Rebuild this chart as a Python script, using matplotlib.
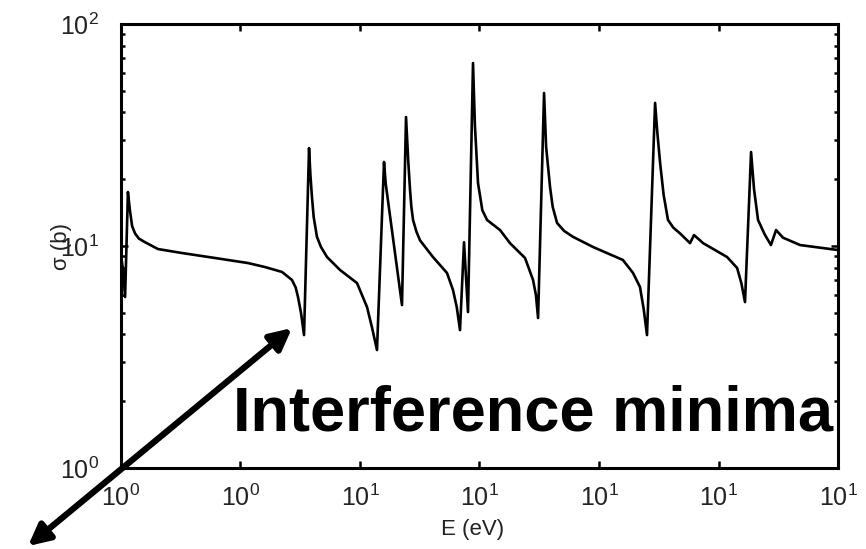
import matplotlib
matplotlib.use("Agg")
import matplotlib.pyplot as plt
from matplotlib.ticker import FixedLocator, NullLocator, FixedFormatter, LogLocator

plt.rcParams['font.family'] = ['Liberation Sans', 'DejaVu Sans']
plt.rcParams['mathtext.fontset'] = 'custom'
plt.rcParams['mathtext.rm'] = 'Liberation Sans'
plt.rcParams['mathtext.it'] = 'Liberation Sans:italic'
plt.rcParams['mathtext.bf'] = 'Liberation Sans:bold'

# Energy (eV) and cross section (b)
energy = [1.000, 1.010, 1.020, 1.034, 1.044, 1.055, 1.070, 1.090, 1.123, 1.195,
          1.341, 1.573, 1.844, 2.001, 2.172, 2.279, 2.320, 2.346, 2.380, 2.415,
          2.474, 2.490, 2.509, 2.530, 2.570, 2.620, 2.698, 2.872, 3.117, 3.271,
          3.350, 3.432, 3.550, 3.580, 3.871, 3.947, 3.990, 4.024, 4.050, 4.083,
          4.150, 4.223, 4.494, 4.808, 4.949, 5.040, 5.119, 5.219, 5.320, 5.450,
          5.500, 5.583, 5.700, 5.831, 6.208, 6.513, 7.002, 7.278, 7.380, 7.456,
          7.674, 7.750, 7.899, 8.000, 8.170, 8.450, 8.821, 9.714, 11.22, 11.78,
          12.18, 12.40, 12.60, 13.10, 13.25, 13.42, 13.65, 13.94, 14.30, 14.77,
          15.50, 15.80, 16.27, 16.51, 18.53, 19.45, 19.85, 20.20, 20.80, 21.10,
          21.51, 22.20, 22.89, 23.46, 24.26, 26.34, 31.62]
sigma = [9.11, 7.80, 5.89, 17.5, 14.5, 12.3, 11.4, 10.8, 10.4, 9.69,
         9.30, 8.83, 8.38, 8.04, 7.64, 7.03, 6.50, 5.89, 5.00, 3.97,
         27.6, 21.0, 16.6, 13.5, 11.0, 9.90, 8.92, 7.80, 6.81, 5.31,
         4.30, 3.40, 23.9, 19.0, 5.42, 38.1, 24.0, 17.9, 15.0, 13.1,
         11.6, 10.6, 8.92, 7.56, 6.34, 5.30, 4.18, 10.4, 5.04, 66.7,
         35.0, 19.2, 14.5, 13.1, 11.8, 10.3, 8.83, 7.03, 6.00, 4.74,
         48.9, 28.0, 18.4, 15.0, 12.7, 11.7, 11.0, 9.90, 8.65, 7.56,
         6.54, 5.20, 3.97, 44.1, 32.0, 23.7, 17.0, 13.1, 12.1, 11.4,
         10.3, 11.2, 10.6, 10.3, 8.92, 7.96, 6.80, 5.59, 26.5, 18.0,
         13.1, 11.3, 10.1, 11.8, 10.9, 10.1, 9.59]

xtick_values = [1.0, 1.778, 3.162, 5.623, 10.0, 17.78, 31.62]
xtick_labels = [r'$10^{0}$', r'$10^{0}$', r'$10^{1}$', r'$10^{1}$',
                r'$10^{1}$', r'$10^{1}$', r'$10^{1}$']
ytick_values = [1, 10, 100]
ytick_labels = [r'$10^{0}$', r'$10^{1}$', r'$10^{2}$']

annotation_text = 'Interference minima'
arrow_tip = (2.279, 4.27)
arrow_tail = (0.639, 0.445)
text_pos = (1.715, 1.483)

fig = plt.figure(figsize=(8.66, 5.49), dpi=100)
ax = fig.add_axes([0.1397, 0.1475, 0.828, 0.8088])

ax.plot(energy, sigma, color='black', lw=1.9, solid_joinstyle='round')
ax.set_xscale('log')
ax.set_yscale('log')
ax.set_xlim(xtick_values[0], xtick_values[-1])
ax.set_ylim(1, 100)

ax.xaxis.set_major_locator(FixedLocator(xtick_values))
ax.xaxis.set_major_formatter(FixedFormatter(xtick_labels))
ax.xaxis.set_minor_locator(NullLocator())
ax.yaxis.set_major_locator(FixedLocator(ytick_values))
ax.yaxis.set_major_formatter(FixedFormatter(ytick_labels))
ax.yaxis.set_minor_locator(LogLocator(base=10, subs=range(2, 10)))

for s in ax.spines.values():
    s.set_linewidth(2.2)
ax.tick_params(which='both', direction='in', top=True, right=True,
               width=1.8, colors='black', labelcolor='#222222')
ax.tick_params(which='major', length=5, labelsize=18)
ax.tick_params(axis='x', which='major', pad=12)
ax.tick_params(axis='y', which='major', pad=16)
ax.tick_params(which='minor', length=3)

ax.set_xlabel('E (eV)', fontsize=16, color='#222222')
ax.xaxis.set_label_coords(0.49, -0.115)
ax.set_ylabel('σ (b)', fontsize=16, color='#222222')
ax.yaxis.set_label_coords(-0.068, 0.5)

ax.annotate('', xy=arrow_tip, xytext=arrow_tail, xycoords='data',
            textcoords='data', annotation_clip=False,
            arrowprops=dict(arrowstyle='<|-|>', lw=4.5, color='black',
                            mutation_scale=32, shrinkA=0, shrinkB=0))
ax.text(text_pos[0], text_pos[1], annotation_text, fontsize=45.5,
        fontweight='bold', color='black', ha='left', va='baseline',
        clip_on=False, zorder=5)

fig.savefig('out.png', dpi=100)
